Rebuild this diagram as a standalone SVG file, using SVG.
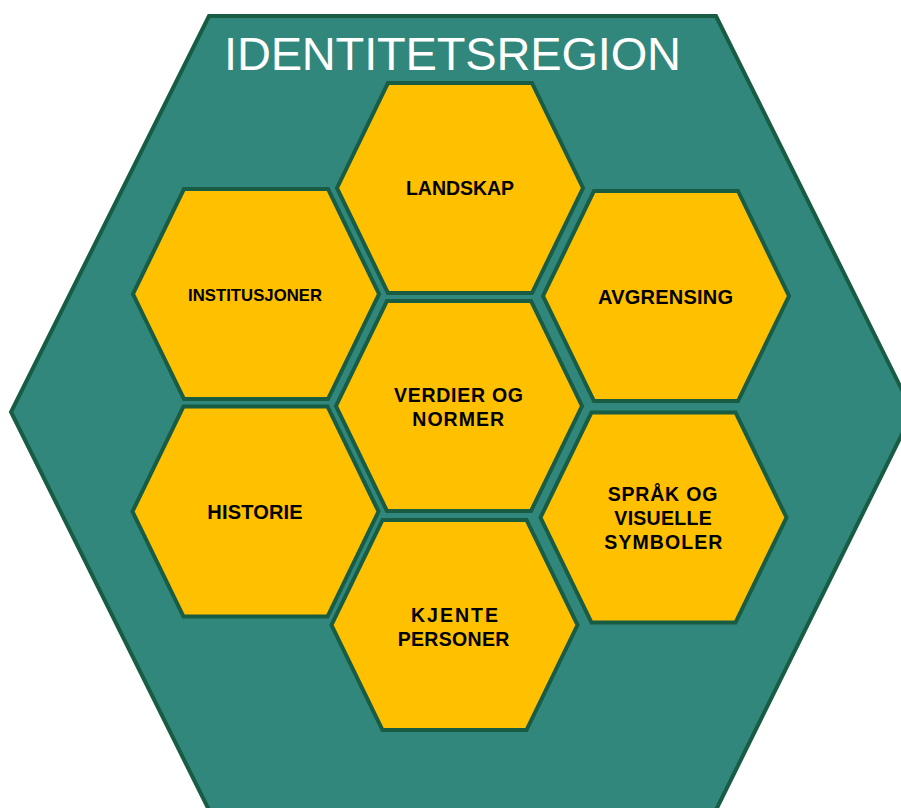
<svg xmlns="http://www.w3.org/2000/svg" width="901" height="808" viewBox="0 0 901 808">
<defs>
<style>
.region{fill:#31877c;stroke:#175c43;stroke-width:4;stroke-linejoin:miter}
.hex{fill:#ffc000;stroke:#175c43;stroke-width:4;stroke-linejoin:miter}
.lbl{font-family:"Liberation Sans",Arial,sans-serif;font-weight:bold;fill:#000;text-anchor:middle;font-size:19.5px}
.title{font-family:"Liberation Sans",Arial,sans-serif;fill:#fff;text-anchor:middle;font-size:47px}
</style>
<polygon id="hexshape" class="hex" points="-123,0 -72,-105 72,-105 123,0 72,105 -72,105"/>
</defs>
<g id="identitetsregion">
<polygon class="region" points="209,16 716,16 913,412 716,810 209,810 11,412"/>
<text class="title" x="452.5" y="70" textLength="457" lengthAdjust="spacing">IDENTITETSREGION</text>
</g>
<g id="connectors"></g>
<g id="landskap">
<use href="#hexshape" x="460" y="188"/>
<text class="lbl" x="460" y="195" textLength="108" lengthAdjust="spacing">LANDSKAP</text>
</g>
<g id="institusjoner">
<use href="#hexshape" x="256" y="294"/>
<text class="lbl" x="255" y="300.5" style="font-size:16.7px" textLength="134" lengthAdjust="spacing">INSTITUSJONER</text>
</g>
<g id="avgrensing">
<use href="#hexshape" x="666" y="296"/>
<text class="lbl" x="665.5" y="304" style="font-size:20px" textLength="135" lengthAdjust="spacing">AVGRENSING</text>
</g>
<g id="verdier">
<use href="#hexshape" x="459" y="406"/>
<text class="lbl" x="458.5" y="401.5" textLength="129" lengthAdjust="spacing">VERDIER OG</text>
<text class="lbl" x="458.2" y="425.5" textLength="91.7" lengthAdjust="spacing">NORMER</text>
</g>
<g id="historie">
<use href="#hexshape" x="255.5" y="511.5"/>
<text class="lbl" x="255" y="519" style="font-size:20px" textLength="95.3" lengthAdjust="spacing">HISTORIE</text>
</g>
<g id="sprak">
<use href="#hexshape" x="663.5" y="517.5"/>
<text class="lbl" x="662.5" y="500.5" textLength="109.6" lengthAdjust="spacing">SPRÅK OG</text>
<text class="lbl" x="663" y="525" textLength="97.3" lengthAdjust="spacing">VISUELLE</text>
<text class="lbl" x="663.3" y="549" textLength="118" lengthAdjust="spacing">SYMBOLER</text>
</g>
<g id="kjente">
<use href="#hexshape" x="454.5" y="625"/>
<text class="lbl" x="454.5" y="621.5" textLength="87" lengthAdjust="spacing">KJENTE</text>
<text class="lbl" x="453.5" y="645.5" textLength="111.6" lengthAdjust="spacing">PERSONER</text>
</g>
</svg>
